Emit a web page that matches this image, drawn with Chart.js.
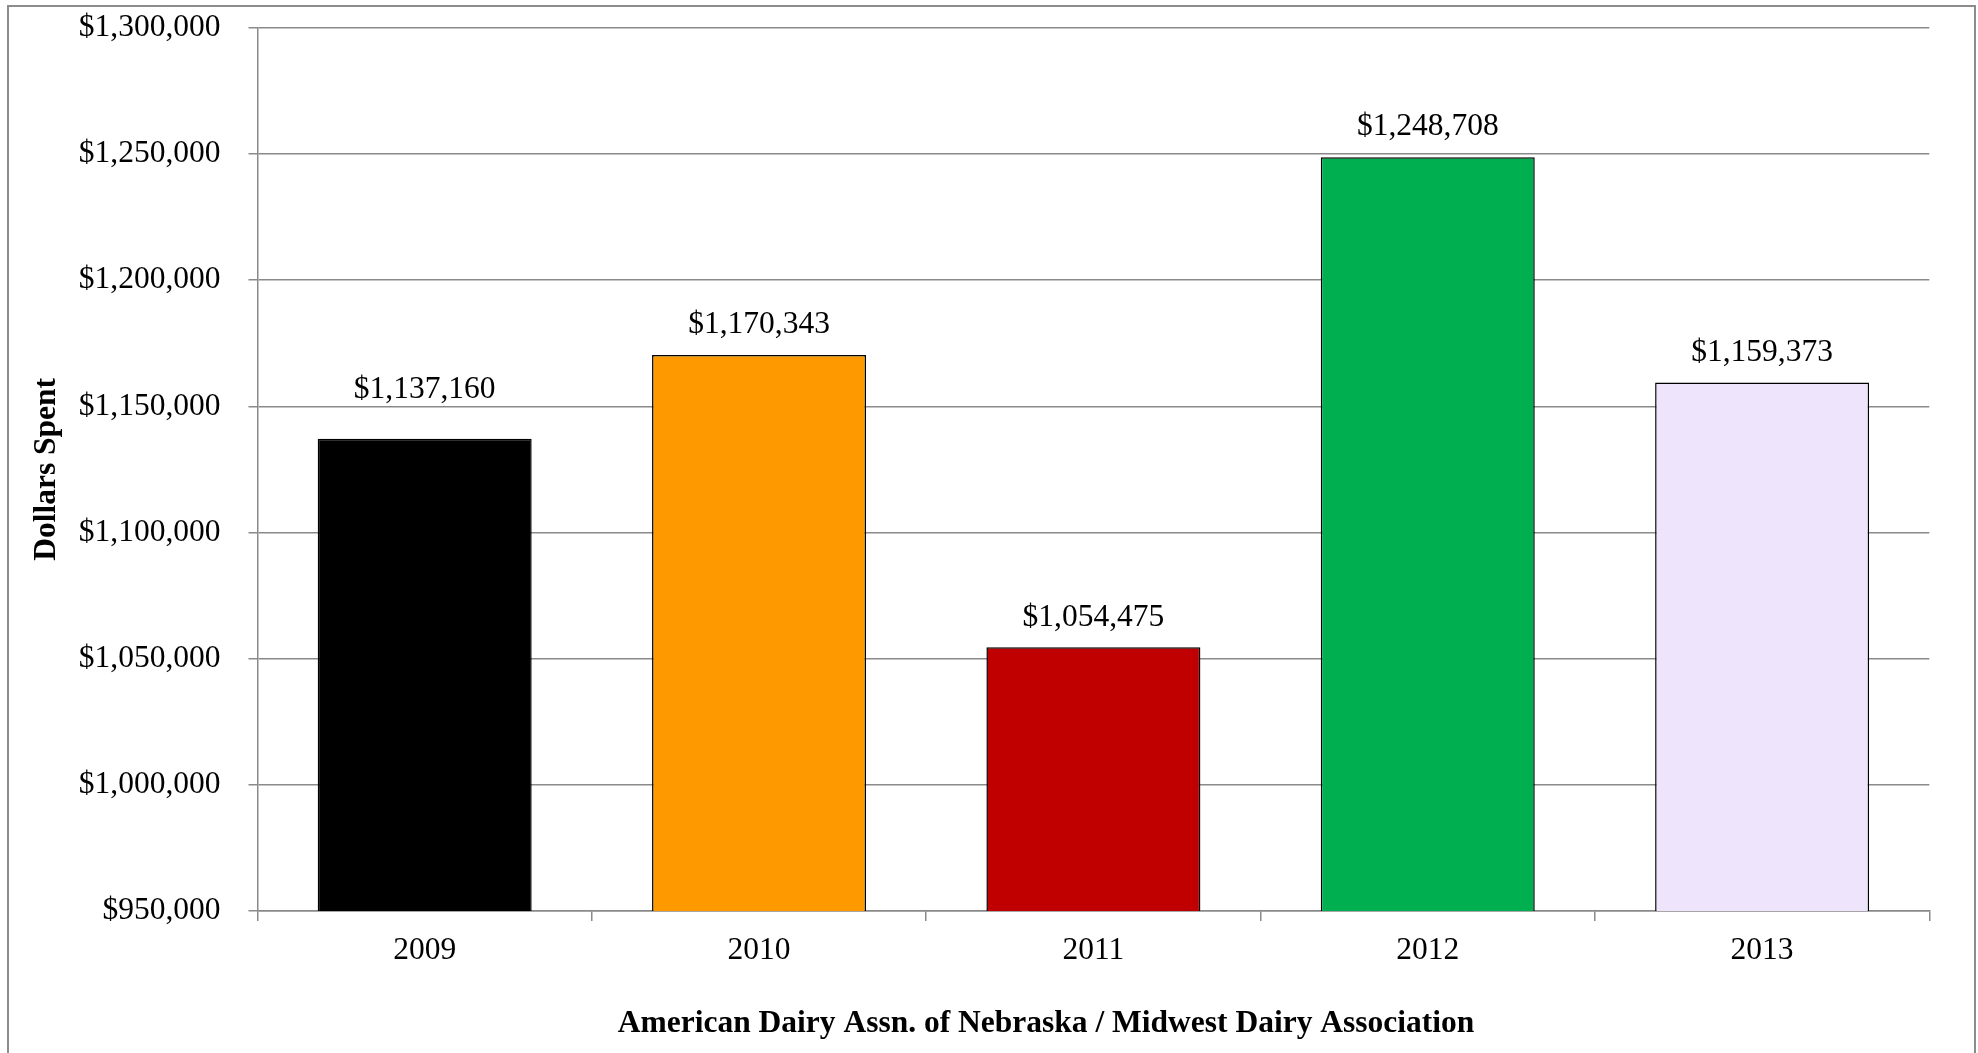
<!DOCTYPE html>
<html>
<head>
<meta charset="utf-8">
<script src="https://cdn.jsdelivr.net/npm/chart.js@4.4.1/dist/chart.umd.min.js"></script>
<style>
    html, body { margin: 0; padding: 0; background: #ffffff; overflow: hidden; }
    #frame {
        position: absolute; left: 7px; top: 5px;
        width: 1965px; height: 1100px;
        border: 2px solid #8c8c8c;
    }
    #wrap { position: absolute; left: 0; top: 0; width: 1978px; height: 1053px; }
</style>
</head>
<body>
<div id="frame"></div>
<div id="wrap"><canvas id="spendChart" width="1978" height="1053"></canvas></div>
<script>
// Chart data
const years = ['2009', '2010', '2011', '2012', '2013'];
const dollarsSpent = [1137160, 1170343, 1054475, 1248708, 1159373];
const yTicks = [950000, 1000000, 1050000, 1100000, 1150000, 1200000, 1250000, 1300000];

const barColors = ['#000000', '#FF9900', '#C00000', '#00B050', '#EEE5FC'];
const labelLift = [49, 30, 30, 30, 30];   // gap from bar top to label centre

const serif = '"Liberation Serif", "Times New Roman", serif';
const gridGray = '#8a8a8a';

function formatDollars(v) {
    return '$' + v.toLocaleString('en-US');
}

// Value labels over bars + axis titles
const annotations = {
    id: 'annotations',
    afterDatasetsDraw(chart) {
        const ctx = chart.ctx;
        const meta = chart.getDatasetMeta(0);
        ctx.save();
        ctx.fillStyle = '#000000';
        ctx.textAlign = 'center';
        ctx.textBaseline = 'middle';
        ctx.font = '31.5px ' + serif;
        meta.data.forEach((bar, i) => {
            ctx.fillText(formatDollars(dollarsSpent[i]), bar.x, bar.y - labelLift[i]);
        });

        ctx.font = 'bold 31.5px ' + serif;
        ctx.fillText('American Dairy Assn. of Nebraska / Midwest Dairy Association', 1046, 1024);

        const area = chart.chartArea;
        ctx.translate(47, (area.top + area.bottom) / 2);
        ctx.rotate(-Math.PI / 2);
        ctx.fillText('Dollars Spent', 0, 0);
        ctx.restore();
    }
};

const ctx = document.getElementById('spendChart').getContext('2d');
new Chart(ctx, {
    type: 'bar',
    data: {
        labels: years,
        datasets: [{
            data: dollarsSpent,
            backgroundColor: barColors,
            borderColor: '#000000',
            borderWidth: 1.5,
            borderSkipped: 'bottom',
            barPercentage: 0.64,
            categoryPercentage: 1.0
        }]
    },
    options: {
        responsive: false,
        animation: false,
        layout: {
            padding: { left: 0, top: 27.7, right: 48.7, bottom: 0 }
        },
        plugins: {
            legend: { display: false },
            tooltip: { enabled: false }
        },
        scales: {
            x: {
                grid: {
                    offset: true,
                    drawOnChartArea: false,
                    color: gridGray,
                    lineWidth: 1.5,
                    tickLength: 10
                },
                border: { color: gridGray, width: 1.5 },
                ticks: {
                    color: '#000000',
                    padding: 11,
                    font: { family: serif, size: 31.5 }
                },
                afterFit(scale) {
                    scale.height = 142;
                    scale.paddingLeft = 0;
                    scale.paddingRight = 0;
                }
            },
            y: {
                min: 950000,
                max: 1300000,
                afterBuildTicks(scale) {
                    scale.ticks = yTicks.map(v => ({ value: v }));
                },
                grid: {
                    color: gridGray,
                    lineWidth: 1.5,
                    tickLength: 9
                },
                border: { color: gridGray, width: 1.5 },
                ticks: {
                    color: '#000000',
                    padding: 28,
                    font: { family: serif, size: 31.5 },
                    callback: function(value) {
                        return formatDollars(value);
                    }
                },
                afterFit(scale) {
                    scale.width = 257.5;
                    scale.paddingTop = 0;
                    scale.paddingBottom = 0;
                }
            }
        }
    },
    plugins: [annotations]
});
</script>
</body>
</html>
